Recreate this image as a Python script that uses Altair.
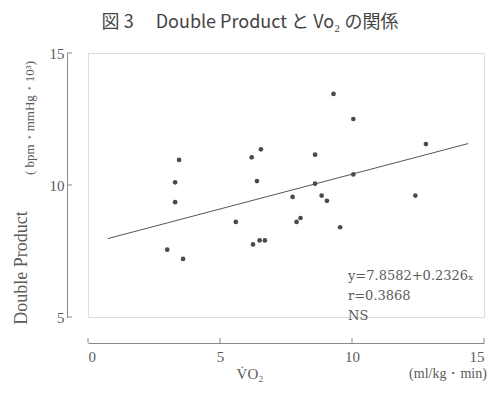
import altair as alt
import pandas as pd

# data
vo2 = [3.0, 3.3, 3.3, 3.45, 3.6, 5.6, 6.2, 6.4, 6.55, 6.25, 6.5, 6.7, 7.75, 7.9, 8.05,
       8.6, 8.6, 8.85, 9.05, 9.3, 9.55, 10.05, 10.05, 12.4, 12.8]
dp = [7.55, 10.1, 9.35, 10.95, 7.2, 8.6, 11.05, 10.15, 11.35, 7.75, 7.9, 7.9, 9.55, 8.6, 8.75,
      11.15, 10.05, 9.6, 9.4, 13.45, 8.4, 12.5, 10.4, 9.6, 11.55]
line_x = [0.75, 14.4]
line_y = [7.97, 11.57]
x_ticks = [0, 5, 10, 15]
y_ticks = [5, 10, 15]

W, H = 396, 264
LEFT, TOP = 80, 45
GRAY = "#5a5a5a"
SERIF = "Liberation Serif"

pts = pd.DataFrame({"x": vo2, "y": dp})
ln = pd.DataFrame({"x": line_x, "y": line_y})

xs = alt.Scale(domain=[0, 15], nice=False, zero=False)
ys = alt.Scale(domain=[5, 15], nice=False, zero=False)

x_axis = alt.Axis(values=x_ticks, offset=26, tickSize=0, labelPadding=6, domainColor="#888",
                  labelFont=SERIF, labelFontSize=15, labelColor=GRAY, grid=False, title=None)
y_axis = alt.Axis(values=y_ticks, offset=21, tickSize=0, labelPadding=3, domainColor="#888",
                  labelFont=SERIF, labelFontSize=15, labelColor=GRAY, grid=False, title=None)

points = alt.Chart(pts).mark_circle(size=22, color="#4a4a4a", opacity=1).encode(
    x=alt.X("x:Q", scale=xs, axis=x_axis),
    y=alt.Y("y:Q", scale=ys, axis=y_axis),
)
reg = alt.Chart(ln).mark_line(color="#555", strokeWidth=1).encode(
    x=alt.X("x:Q", scale=xs), y=alt.Y("y:Q", scale=ys))

xt = alt.Chart(pd.DataFrame({"x": x_ticks})).mark_rule(color="#888").encode(
    x=alt.X("x:Q", scale=xs), y=alt.value(H + 26), y2=alt.value(H + 21))
yt = alt.Chart(pd.DataFrame({"y": y_ticks})).mark_rule(color="#888").encode(
    y=alt.Y("y:Q", scale=ys), x=alt.value(-21), x2=alt.value(-16))

def txt(s, x, y, font=SERIF, size=13, align="left", angle=0, color=GRAY):
    return alt.Chart(pd.DataFrame({"t": [s]})).mark_text(
        font=font, fontSize=size, align=align, baseline="middle", angle=angle, color=color
    ).encode(text="t:N", x=alt.value(x), y=alt.value(y))

ANN = "DejaVu Serif"
texts = [
    txt("図 3　  Double  Product  と  Vo₂ の関係", 162, -30, font="Noto Sans CJK JP", size=18,
        align="center", color="#444"),
    txt("Double  Product", -66, 215, size=18, align="center", angle=270),
    txt("( bpm・mmHg・10³)", -58, 65, size=13, align="center", angle=270),
    txt("y=7.8582+0.2326ₓ", 260, 223, font=ANN, size=13),
    txt("r=0.3868", 260, 243, font=ANN, size=13),
    txt("NS", 260, 263, font=ANN, size=13),
    txt("V̇O₂", 162, 321, size=15, align="center"),
    txt("(ml/kg・min)", 360, 321, size=14, align="center"),
]

chart = alt.layer(reg, points, xt, yt, *texts).properties(
    width=W, height=H,
    autosize=alt.AutoSizeParams(type="none"),
    padding={"left": LEFT, "top": TOP, "right": 7, "bottom": 68},
).configure_view(stroke=None).configure(background="white")

chart.save("out.html", embed_options={"renderer": "svg", "actions": False})
